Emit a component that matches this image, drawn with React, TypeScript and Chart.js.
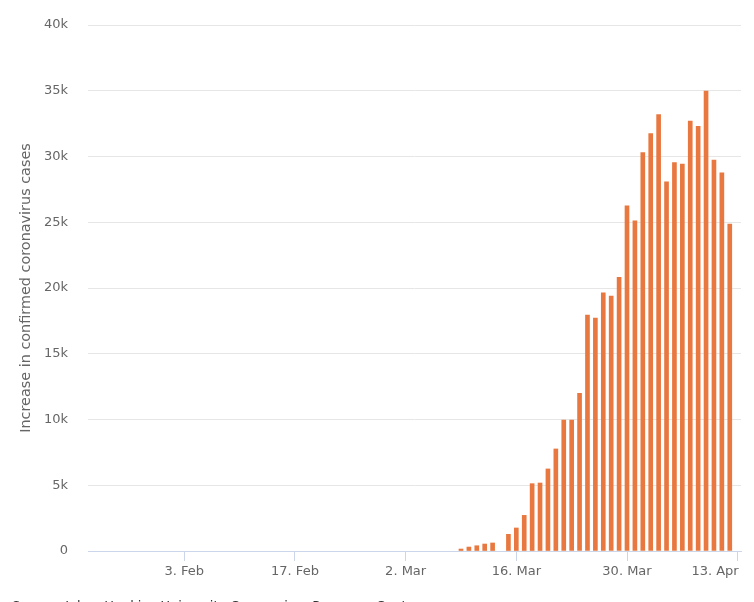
import React, { useEffect, useRef } from "react";
import { Chart, registerables } from "chart.js";

Chart.register(...registerables);

// Daily increase in confirmed coronavirus cases, one value per day from 22 Jan to 12 Apr
const startDay = "2020-01-22";
const dailyIncrease: number[] = [
  // 22 Jan – 31 Jan
  0, 0, 0, 0, 0, 0, 0, 0, 0, 0,
  // 1 Feb – 29 Feb
  0, 0, 0, 0, 0, 0, 0, 0, 0, 0, 0, 0, 0, 0, 0, 0, 0, 0, 0, 0, 0, 0, 0, 0, 0, 0, 0, 0, 0,
  // 1 Mar – 31 Mar
  0, 0, 0, 0, 0, 0, 0, 0, 150, 300, 400, 530, 610, 0, 1270, 1750,
  2710, 5120, 5170, 6240, 7760, 9960, 9960, 11990, 17950, 17720, 19640, 19390, 20810, 26240, 25100,
  // 1 Apr – 12 Apr
  30290, 31740, 33180, 28080, 29530, 29430, 32700, 32300, 34980, 29730, 28750, 24870,
];

// x-axis ticks: day index since 22 Jan, and their labels
const tickDays: number[] = [12, 26, 40, 54, 68, 82];
const tickLabels: string[] = ["3. Feb", "17. Feb", "2. Mar", "16. Mar", "30. Mar", "13. Apr"];

const yTickValues: number[] = [0, 5000, 10000, 15000, 20000, 25000, 30000, 35000, 40000];
const yTickLabels: string[] = ["0", "5k", "10k", "15k", "20k", "25k", "30k", "35k", "40k"];

const yAxisTitle = "Increase in confirmed coronavirus cases";
const sourceText = "Source: Johns Hopkins University Coronavirus Resource Center";
const seriesName = "Daily new cases";

const FONT = "'DejaVu Sans', sans-serif";

function dayLabel(i: number): string {
  const d = new Date(startDay + "T00:00:00Z");
  d.setUTCDate(d.getUTCDate() + i);
  const m = ["Jan", "Feb", "Mar", "Apr"][d.getUTCMonth()];
  return d.getUTCDate() + ". " + m;
}

// keep the last x label inside the plot, ending at its tick, like the original chart does
const keepLastLabelInside = {
  id: "keepLastLabelInside",
  beforeDraw(chart: any) {
    const xs = chart.scales.x;
    if (!xs) return;
    const items = xs.getLabelItems(chart.chartArea);
    if (!items || !items.length) return;
    const last = items[items.length - 1];
    last.options.textAlign = "right";
    last.options.translation[0] = xs.getPixelForValue(tickDays[tickDays.length - 1]) + 1;
  },
};

export default function App() {
  const ref = useRef<HTMLCanvasElement | null>(null);

  useEffect(() => {
    if (!ref.current) return;
    const points = dailyIncrease.map((v, i) => ({ x: i, y: v }));
    const chart = new Chart(ref.current, {
      type: "bar",
      plugins: [keepLastLabelInside],
      data: {
        datasets: [
          {
            label: seriesName,
            data: points as any,
            backgroundColor: (ctx: any) =>
              ctx.raw && ctx.raw.y > 0 ? "#e8783f" : "rgba(0,0,0,0)",
            borderWidth: 0,
            barThickness: 4,
          },
        ],
      },
      options: {
        animation: false,
        responsive: true,
        maintainAspectRatio: false,
        layout: { padding: { top: 25, right: 13, bottom: 0, left: 0 } },
        plugins: {
          legend: { display: false },
          title: { display: false },
          tooltip: {
            callbacks: {
              title: (items: any) => (items.length ? dayLabel(items[0].parsed.x) : ""),
            },
          },
        },
        scales: {
          x: {
            type: "linear",
            offset: false,
            min: -0.18,
            max: 82.42,
            afterBuildTicks: (scale: any) => {
              scale.ticks = tickDays.map((v) => ({ value: v }));
            },
            afterFit: (scale: any) => {
              scale.height = 51;
              scale.paddingLeft = 0;
              scale.paddingRight = 0;
            },
            grid: {
              offset: false,
              drawOnChartArea: false,
              drawTicks: true,
              tickLength: 10,
              color: "#ccd6eb",
            },
            border: { display: true, color: "#ccd6eb", width: 1 },
            ticks: {
              autoSkip: false,
              maxRotation: 0,
              padding: 3,
              color: "#666666",
              font: { family: FONT, size: 13 },
              callback: (value: any) => {
                const idx = tickDays.indexOf(Number(value));
                return idx >= 0 ? tickLabels[idx] : null;
              },
            },
          },
          y: {
            type: "linear",
            min: 0,
            max: 40000,
            afterBuildTicks: (scale: any) => {
              scale.ticks = yTickValues.map((v) => ({ value: v }));
            },
            afterFit: (scale: any) => {
              scale.width = 88;
              scale.paddingTop = 0;
              scale.paddingBottom = 0;
            },
            grid: {
              drawTicks: false,
              color: (ctx: any) => (ctx.tick && ctx.tick.value === 0 ? "rgba(0,0,0,0)" : "#e6e6e6"),
              lineWidth: 1,
            },
            border: { display: false },
            ticks: {
              padding: 20,
              color: "#666666",
              font: { family: FONT, size: 13 },
              callback: (value: any) => {
                const idx = yTickValues.indexOf(Number(value));
                return idx >= 0 ? yTickLabels[idx] : "";
              },
            },
            title: {
              display: true,
              text: yAxisTitle,
              color: "#666666",
              font: { family: FONT, size: 14.4 },
              padding: { top: 18, bottom: 0 },
            },
          },
        },
      },
    });
    return () => chart.destroy();
  }, []);

  return (
    <div
      style={{
        position: "fixed",
        left: 0,
        top: 0,
        width: 754,
        height: 602,
        overflow: "hidden",
        background: "#ffffff",
      }}
    >
      <div style={{ position: "absolute", left: 0, top: 0, width: 754, height: 602 }}>
        <canvas ref={ref} />
      </div>
      <div
        style={{
          position: "absolute",
          left: 12,
          top: 598,
          fontFamily: FONT,
          fontSize: 13,
          lineHeight: "15px",
          color: "#333333",
          whiteSpace: "nowrap",
        }}
      >
        {sourceText}
      </div>
    </div>
  );
}
